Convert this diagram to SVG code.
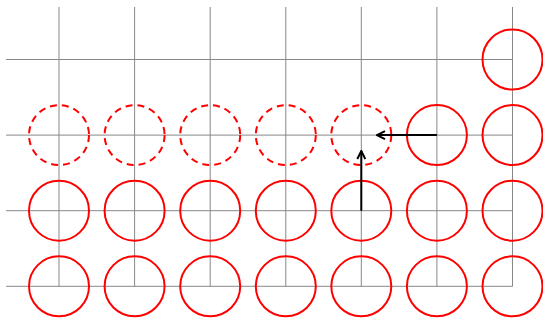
<svg xmlns="http://www.w3.org/2000/svg" width="543" height="320" viewBox="0 0 543 320">
<style>
.g{stroke:#888;stroke-width:1;fill:none}
.c{stroke:#f00;stroke-width:2;fill:none}
.d{stroke:#f00;stroke-width:2;fill:none;stroke-dasharray:7,5}
.a{stroke:#000;stroke-width:2;fill:none;marker-end:url(#ah)}
</style>
<defs>
<marker id="ah" viewBox="0 0 10 10" refX="9" refY="5" markerWidth="5" markerHeight="5" orient="auto" markerUnits="strokeWidth">
<path d="M1,1 L9,5 L1,9" fill="none" stroke="#000" stroke-width="2"/>
</marker>
</defs>
<g id="grid">
<path class="g" d="M59,7V286.5M134.6,7V286.5M210.2,7V286.5M285.8,7V286.5M361.3,7V286.5M436.9,7V286.5M512.5,7V286.5"/>
<path class="g" d="M6,59.5H512.5M6,135.1H512.5M6,210.7H512.5M6,286.3H512.5"/>
</g>
<g id="r0"><circle class="c" cx="512.5" cy="59.5" r="30"/></g>
<g id="r1">
<circle class="d" cx="59" cy="135.1" r="30"/>
<circle class="d" cx="134.6" cy="135.1" r="30"/>
<circle class="d" cx="210.2" cy="135.1" r="30"/>
<circle class="d" cx="285.8" cy="135.1" r="30"/>
<circle class="d" cx="361.3" cy="135.1" r="30"/>
<circle class="c" cx="436.9" cy="135.1" r="30"/>
<circle class="c" cx="512.5" cy="135.1" r="30"/>
</g>
<g id="r2">
<circle class="c" cx="59" cy="210.7" r="30"/>
<circle class="c" cx="134.6" cy="210.7" r="30"/>
<circle class="c" cx="210.2" cy="210.7" r="30"/>
<circle class="c" cx="285.8" cy="210.7" r="30"/>
<circle class="c" cx="361.3" cy="210.7" r="30"/>
<circle class="c" cx="436.9" cy="210.7" r="30"/>
<circle class="c" cx="512.5" cy="210.7" r="30"/>
</g>
<g id="r3">
<circle class="c" cx="59" cy="286.3" r="30"/>
<circle class="c" cx="134.6" cy="286.3" r="30"/>
<circle class="c" cx="210.2" cy="286.3" r="30"/>
<circle class="c" cx="285.8" cy="286.3" r="30"/>
<circle class="c" cx="361.3" cy="286.3" r="30"/>
<circle class="c" cx="436.9" cy="286.3" r="30"/>
<circle class="c" cx="512.5" cy="286.3" r="30"/>
</g>
<g id="connectors">
<line class="a" x1="436.9" y1="135.1" x2="377" y2="135.1"/>
<line class="a" x1="361.3" y1="210.7" x2="361.3" y2="151"/>
</g>
</svg>
